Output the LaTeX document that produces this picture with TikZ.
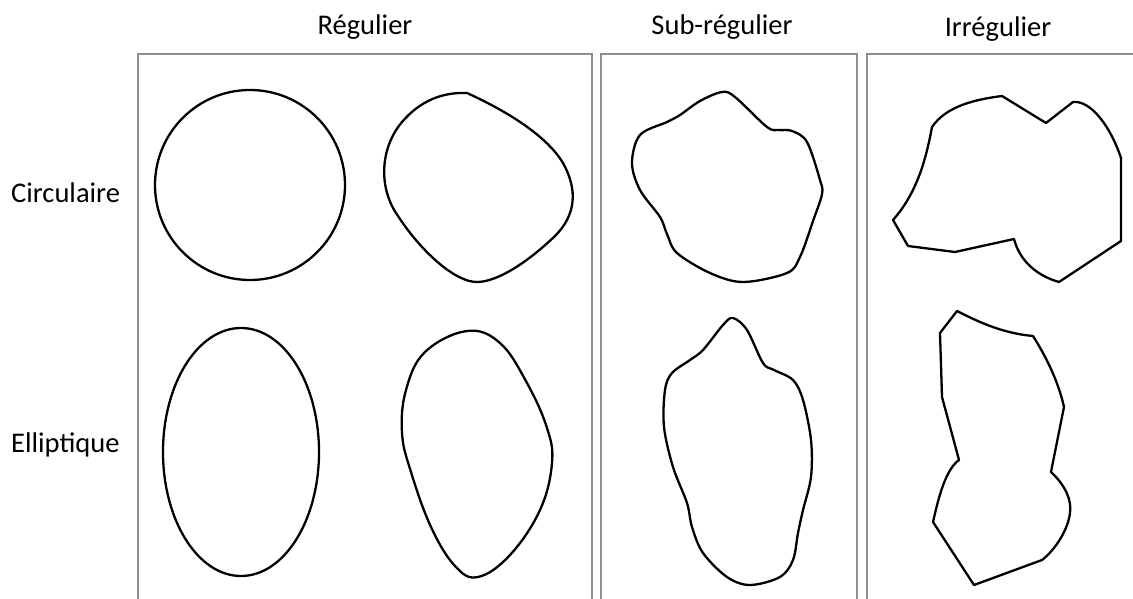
\documentclass[tikz,border=0pt]{standalone}
\usepackage{fontspec}
\setmainfont{Carlito}
\definecolor{boxgray}{RGB}{140,142,146}
\begin{document}
\begin{tikzpicture}[x=1pt,y=-1pt,
  frame/.style={draw=boxgray,line width=2pt},
  blob/.style={draw=black,line width=2.3pt,line join=round},
  lbl/.style={font=\fontsize{28.5}{34}\selectfont,inner sep=0pt}]
\useasboundingbox (0,0) rectangle (1133,599);
% frames
\draw[frame] (138,599) -- (138,54) -- (592,54) -- (592,599);
\draw[frame] (601,599) -- (601,54) -- (857,54) -- (857,599);
\draw[frame] (867,599) -- (867,54) -- (1133,54);
% labels
\node[lbl] (hreg) at (365,27) {Régulier};
\node[lbl] (hsub) at (722,27) {Sub-régulier};
\node[lbl] (hirr) at (998,29) {Irrégulier};
\node[lbl,anchor=west] (rcirc) at (11,193) {Circulaire};
\node[lbl,anchor=west] (rell) at (11,445) {Elliptique};
% regular circular
\draw[blob] (250,185) circle[radius=95pt];
\draw[blob] (467,93) .. controls (500,108) and (545,133) .. (563,163)
  .. controls (578,190) and (576,215) .. (555,236)
  .. controls (530,260) and (500,281) .. (478,282)
  .. controls (455,283) and (420,250) .. (398,216)
  .. controls (378,188) and (380,148) .. (402,122)
  .. controls (420,101) and (442,92) .. (467,93) -- cycle;
% regular elliptic
\draw[blob] (241,452) circle[x radius=78pt, y radius=124pt];
\draw[blob] plot[smooth cycle,tension=0.65] coordinates {(467,331) (500,343) (527,383) (547,428) (552,463) (540,510) (510,555) (478,577) (455,566) (431,527) (411,472) (402,433) (406,390) (425,352)};
% sub-regular circular
\draw[blob] plot[smooth cycle,tension=0.55] coordinates {(722,92) (735,97) (767,127) (779,130) (792,131) (807,142) (820,180) (822,194) (813,221) (800,257) (787,273) (743,282) (710,273) (677,253) (667,234) (660,217) (640,190) (632,163) (640,135) (667,122) (680,115) (700,101)};
% sub-regular elliptic
\draw[blob] plot[smooth cycle,tension=0.55] coordinates {(733,318) (747,330) (763,363) (774,370) (793,380) (803,400) (811,440) (811,477) (803,510) (798,533) (793,560) (780,577) (750,585) (727,577) (703,553) (692,527) (687,503) (673,467) (664,427) (665,390) (672,373) (690,360) (703,350) (723,325)};
% irregular circular
\draw[blob] (893,220) -- (908,246) -- (955,252) -- (1014,239)
  .. controls (1020,262) and (1038,276) .. (1059,282) -- (1121,241) -- (1121,158)
  .. controls (1110,125) and (1090,100) .. (1073,102) -- (1046,123) -- (1002,96)
  .. controls (970,100) and (945,108) .. (932,127)
  .. controls (925,165) and (915,195) .. (893,220) -- cycle;
% irregular elliptic
\draw[blob] (957,311) .. controls (975,320) and (1000,333) .. (1033,336)
  .. controls (1045,355) and (1058,380) .. (1064,407) -- (1051,472)
  .. controls (1065,485) and (1072,500) .. (1070,513)
  .. controls (1068,530) and (1055,550) .. (1042,560) -- (974,585) -- (933,522)
  .. controls (938,500) and (945,470) .. (959,460) -- (942,397) -- (940,333) -- cycle;
\end{tikzpicture}
\end{document}
